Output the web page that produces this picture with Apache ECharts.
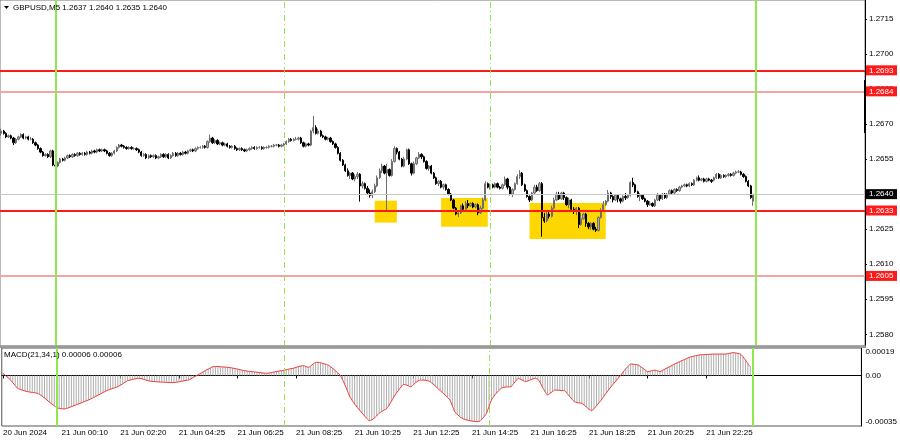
<!DOCTYPE html>
<html><head><meta charset="utf-8">
<script src="https://cdn.jsdelivr.net/npm/echarts@6/dist/echarts.min.js"></script>
<style>html,body{margin:0;padding:0;background:#fff}#c{width:900px;height:441px}</style>
</head><body><div id="c"></div>
<script>
const symbolName = 'GBPUSD,M5';
const macdName = 'MACD(21,34,1)';
const tickLabels = ['20 Jun 2024','21 Jun 00:10','21 Jun 02:20','21 Jun 04:25','21 Jun 06:25','21 Jun 08:25','21 Jun 10:25','21 Jun 12:25','21 Jun 14:25','21 Jun 16:25','21 Jun 18:25','21 Jun 20:25','21 Jun 22:25'];
const barsPerLabel = 24;
const slotCount = 352;
const priceTicks = [1.2580,1.2595,1.2610,1.2625,1.2640,1.2655,1.2670,1.2685,1.2700,1.2715];
const macdTicks = [-0.00035, 0, 0.00019];
const priceMin = 1.2575, priceMax = 1.27231;
const macdMin = -0.00035, macdMax = 0.00019;
const strongLevels = [1.2693, 1.2633];
const weakLevels = [1.2684, 1.2605];
const dayBreaks = [22, 307];
const sessionBreaks = [115, 199];
const zones = [[152,1.26372,161,1.26278],[179,1.26384,198,1.26260],[215,1.26362,246,1.26208]];
// [open, close, low, high]
const candles = [
[1.2666,1.2667,1.2665,1.2668],[1.2667,1.2666,1.26655,1.26675],[1.2666,1.26645,1.2664,1.26665],[1.26645,1.2665,1.2664,1.26655],[1.2665,1.2664,1.26635,1.26655],
[1.2664,1.2662,1.2661,1.26645],[1.2662,1.26635,1.26615,1.2664],[1.26635,1.26645,1.2663,1.2665],[1.26645,1.26655,1.2664,1.2666],[1.26655,1.2664,1.26635,1.2666],
[1.2664,1.26645,1.26635,1.2665],[1.26645,1.26635,1.2663,1.2665],[1.26635,1.26635,1.2663,1.26645],[1.26635,1.2662,1.26615,1.2664],[1.2662,1.2661,1.26605,1.26625],
[1.2661,1.26595,1.2659,1.26615],[1.26595,1.2658,1.26575,1.266],[1.2658,1.26565,1.2656,1.26585],[1.26565,1.2657,1.2656,1.26575],[1.2657,1.2656,1.26555,1.26575],
[1.2656,1.26585,1.26555,1.2659],[1.26585,1.26525,1.2652,1.2659],[1.26525,1.2652,1.26515,1.26535],[1.2652,1.26535,1.26515,1.2654],[1.26535,1.2655,1.2653,1.26555],
[1.2655,1.26545,1.2654,1.26555],[1.26545,1.26555,1.2654,1.2656],[1.26555,1.26565,1.2655,1.2657],[1.26565,1.2656,1.26555,1.2657],[1.2656,1.2657,1.26555,1.26575],
[1.2657,1.26565,1.2656,1.26575],[1.26565,1.26575,1.2656,1.2658],[1.26575,1.2657,1.26565,1.2658],[1.2657,1.26575,1.26565,1.2658],[1.26575,1.2657,1.26565,1.2658],
[1.2657,1.2658,1.26565,1.26585],[1.2658,1.26575,1.2657,1.26585],[1.26575,1.26585,1.2657,1.2659],[1.26585,1.2658,1.26575,1.2659],[1.2658,1.2659,1.26575,1.26595],
[1.2659,1.26585,1.2658,1.26595],[1.26585,1.2659,1.2658,1.26595],[1.2659,1.26585,1.2658,1.26595],[1.26585,1.26575,1.2657,1.2659],[1.26575,1.26565,1.2656,1.2658],
[1.26565,1.26575,1.2656,1.2658],[1.26575,1.26585,1.2657,1.2659],[1.26585,1.266,1.2658,1.26605],[1.266,1.2661,1.26595,1.26615],[1.2661,1.26605,1.266,1.26615],
[1.26605,1.266,1.26595,1.2661],[1.266,1.26595,1.2659,1.26605],[1.26595,1.266,1.2659,1.26605],[1.266,1.26595,1.2659,1.26605],[1.26595,1.26595,1.2659,1.266],
[1.26595,1.2659,1.26585,1.266],[1.2659,1.2658,1.26575,1.26595],[1.2658,1.26565,1.2656,1.26585],[1.26565,1.2657,1.2656,1.26575],[1.2657,1.26555,1.2655,1.26575],
[1.26555,1.26565,1.2655,1.2657],[1.26565,1.2656,1.26555,1.2657],[1.2656,1.26565,1.26555,1.2657],[1.26565,1.26555,1.2655,1.2657],[1.26555,1.2656,1.2655,1.26565],
[1.2656,1.2657,1.26555,1.26575],[1.2657,1.2656,1.26555,1.26575],[1.2656,1.2657,1.26555,1.26575],[1.2657,1.26555,1.2655,1.26575],[1.26555,1.26565,1.2655,1.2657],
[1.26565,1.26575,1.2656,1.2658],[1.26575,1.26565,1.2656,1.2658],[1.26565,1.26575,1.2656,1.2658],[1.26575,1.2657,1.26565,1.2658],[1.2657,1.2658,1.26565,1.26585],
[1.2658,1.26575,1.2657,1.26585],[1.26575,1.26585,1.2657,1.2659],[1.26585,1.2659,1.2658,1.26595],[1.2659,1.26585,1.2658,1.26595],[1.26585,1.26595,1.2658,1.266],
[1.26595,1.266,1.2659,1.26605],[1.266,1.266,1.26595,1.26605],[1.266,1.26605,1.26595,1.2661],[1.26605,1.266,1.26595,1.2661],[1.266,1.26625,1.26595,1.2663],
[1.26625,1.2664,1.2662,1.26655],[1.2664,1.2662,1.26615,1.26645],[1.2662,1.2663,1.26615,1.26635],[1.2663,1.26615,1.2661,1.26635],[1.26615,1.2662,1.2661,1.26625],
[1.2662,1.2661,1.26605,1.26625],[1.2661,1.26615,1.26605,1.2662],[1.26615,1.26605,1.266,1.2662],[1.26605,1.266,1.26595,1.2661],[1.266,1.26605,1.26595,1.2661],
[1.26605,1.26595,1.2659,1.2661],[1.26595,1.2659,1.26585,1.266],[1.2659,1.26595,1.26585,1.266],[1.26595,1.2659,1.26585,1.266],[1.2659,1.26585,1.2658,1.26595],
[1.26585,1.2659,1.2658,1.26595],[1.2659,1.26595,1.26585,1.266],[1.26595,1.266,1.2659,1.26605],[1.266,1.26595,1.2659,1.26605],[1.26595,1.266,1.2659,1.26605],
[1.266,1.266,1.26595,1.26605],[1.266,1.26595,1.2659,1.26605],[1.26595,1.266,1.2659,1.26605],[1.266,1.266,1.26595,1.26605],[1.266,1.26605,1.26595,1.2661],
[1.26605,1.26605,1.266,1.2661],[1.26605,1.2661,1.266,1.26615],[1.2661,1.2661,1.26605,1.26615],[1.2661,1.26605,1.266,1.26615],[1.26605,1.2661,1.266,1.26615],
[1.2661,1.26615,1.26605,1.2662],[1.26615,1.26625,1.2661,1.2663],[1.26625,1.26635,1.2662,1.2664],[1.26635,1.2663,1.26625,1.2664],[1.2663,1.26635,1.26625,1.2664],
[1.26635,1.26635,1.2663,1.26645],[1.26635,1.2664,1.2663,1.26645],[1.2664,1.2662,1.26615,1.26645],[1.2662,1.26605,1.266,1.26625],[1.26605,1.26615,1.266,1.2662],
[1.26615,1.2661,1.26605,1.2662],[1.2661,1.2667,1.26605,1.26675],[1.2667,1.26685,1.2666,1.26735],[1.26685,1.2666,1.26655,1.26695],[1.2666,1.2667,1.26655,1.2668],
[1.2667,1.2665,1.26645,1.26675],[1.2665,1.26645,1.2664,1.26655],[1.26645,1.26635,1.2663,1.2665],[1.26635,1.2664,1.2663,1.26645],[1.2664,1.26625,1.2662,1.26645],
[1.26625,1.26615,1.2661,1.2663],[1.26615,1.266,1.26595,1.2662],[1.266,1.26575,1.2657,1.26605],[1.26575,1.26545,1.2654,1.2658],[1.26545,1.26525,1.2652,1.2655],
[1.26525,1.265,1.26495,1.2653],[1.265,1.2648,1.26475,1.2651],[1.2648,1.2649,1.26465,1.26495],[1.2649,1.26465,1.2646,1.26495],[1.26465,1.26475,1.26455,1.26485],
[1.26475,1.26485,1.26465,1.26495],[1.26485,1.26435,1.26368,1.2649],[1.26435,1.26445,1.26425,1.26455],[1.26445,1.26425,1.2642,1.2645],[1.26425,1.26405,1.264,1.26435],
[1.26405,1.26395,1.26385,1.2642],[1.26395,1.2641,1.26383,1.2642],[1.2641,1.26435,1.26405,1.26445],[1.26435,1.2647,1.2643,1.2648],[1.2647,1.265,1.26465,1.2651],
[1.265,1.2652,1.2649,1.2653],[1.2652,1.2649,1.26485,1.26525],[1.2649,1.26505,1.26325,1.2653],[1.26505,1.2648,1.26475,1.2651],[1.2648,1.2654,1.26475,1.2655],
[1.2654,1.26595,1.26535,1.26605],[1.26595,1.2658,1.2657,1.266],[1.2658,1.2655,1.26545,1.26585],[1.2655,1.2652,1.26515,1.26555],[1.2652,1.2655,1.26515,1.2656],
[1.2655,1.2659,1.26545,1.26595],[1.2659,1.2653,1.26525,1.26595],[1.2653,1.2649,1.2648,1.26535],[1.2649,1.2653,1.26485,1.2654],[1.2653,1.26555,1.26525,1.2656],
[1.26555,1.2657,1.2655,1.2658],[1.2657,1.2656,1.2655,1.26575],[1.2656,1.2654,1.26535,1.26565],[1.2654,1.2651,1.26505,1.26545],[1.2651,1.2652,1.265,1.26525],
[1.2652,1.2649,1.26485,1.26525],[1.2649,1.2647,1.26465,1.26495],[1.2647,1.26445,1.2644,1.26475],[1.26445,1.26455,1.26435,1.2646],[1.26455,1.2643,1.26425,1.2646],
[1.2643,1.2644,1.2642,1.26445],[1.2644,1.2642,1.26415,1.26445],[1.2642,1.264,1.26395,1.26425],[1.264,1.26375,1.2637,1.26405],[1.26375,1.2634,1.26335,1.2638],
[1.2634,1.26315,1.2631,1.26345],[1.26315,1.2632,1.26302,1.2633],[1.2632,1.2635,1.26315,1.26355],[1.2635,1.26335,1.2633,1.2636],[1.26335,1.2636,1.2633,1.2637],
[1.2636,1.2635,1.2634,1.26375],[1.2635,1.2636,1.26345,1.26365],[1.2636,1.26345,1.2634,1.26365],[1.26345,1.26355,1.2634,1.2636],[1.26355,1.2632,1.2631,1.2636],
[1.2632,1.2634,1.26315,1.2635],[1.2634,1.26375,1.26335,1.26385],[1.26375,1.26445,1.2637,1.26455],[1.26445,1.2643,1.26425,1.2645],[1.2643,1.2644,1.2642,1.26445],
[1.2644,1.2643,1.26425,1.26445],[1.2643,1.26445,1.26425,1.2645],[1.26445,1.2643,1.26425,1.2645],[1.2643,1.26425,1.2642,1.26435],[1.26425,1.2644,1.2642,1.26445],
[1.2644,1.26465,1.26435,1.26475],[1.26465,1.2643,1.2642,1.2647],[1.2643,1.264,1.26395,1.26435],[1.264,1.2642,1.26388,1.26425],[1.2642,1.26445,1.26415,1.2645],
[1.26445,1.26475,1.2644,1.26485],[1.26475,1.2649,1.26465,1.26503],[1.2649,1.2644,1.26435,1.26495],[1.2644,1.26415,1.2641,1.26445],[1.26415,1.2639,1.26385,1.2642],
[1.2639,1.26375,1.26366,1.26395],[1.26375,1.26405,1.2637,1.2641],[1.26405,1.2643,1.264,1.2644],[1.2643,1.26415,1.2641,1.2644],[1.26415,1.26445,1.2641,1.26452],
[1.26445,1.263,1.26218,1.26452],[1.263,1.26285,1.26277,1.2632],[1.26285,1.26315,1.2628,1.2633],[1.26315,1.26305,1.26295,1.2633],[1.26305,1.2634,1.263,1.2635],
[1.2634,1.26375,1.26335,1.26385],[1.26375,1.264,1.2637,1.2641],[1.264,1.2638,1.26375,1.2641],[1.2638,1.26405,1.26375,1.2641],[1.26405,1.26385,1.26375,1.2641],
[1.26385,1.26355,1.2635,1.2639],[1.26355,1.26375,1.2634,1.26385],[1.26375,1.26335,1.2633,1.2638],[1.26335,1.2633,1.26315,1.26345],[1.2633,1.2634,1.2631,1.26345],
[1.2634,1.2627,1.26255,1.26345],[1.2627,1.26295,1.26265,1.2632],[1.26295,1.26315,1.2629,1.2632],[1.26315,1.26275,1.2626,1.2632],[1.26275,1.2626,1.2625,1.2628],
[1.2626,1.26275,1.26247,1.2628],[1.26275,1.2625,1.26245,1.2628],[1.2625,1.26245,1.26238,1.2626],[1.26245,1.263,1.2624,1.26305],[1.263,1.2633,1.26295,1.2634],
[1.2633,1.26355,1.26325,1.2637],[1.26355,1.2637,1.2635,1.26375],[1.2637,1.26405,1.26365,1.26418],[1.26405,1.2639,1.2638,1.2641],[1.2639,1.26375,1.26365,1.26395],
[1.26375,1.26395,1.2637,1.264],[1.26395,1.2638,1.26365,1.264],[1.2638,1.2637,1.2636,1.26385],[1.2637,1.2639,1.26365,1.26395],[1.2639,1.26385,1.26375,1.26405],
[1.26385,1.26395,1.2638,1.264],[1.26395,1.2645,1.2639,1.26455],[1.2645,1.2644,1.2643,1.2647],[1.2644,1.2641,1.26405,1.26445],[1.2641,1.2639,1.26385,1.26415],
[1.2639,1.26395,1.2637,1.26405],[1.26395,1.2638,1.26375,1.264],[1.2638,1.2637,1.26365,1.26385],[1.2637,1.26355,1.26345,1.26375],[1.26355,1.2636,1.2635,1.2637],
[1.2636,1.2635,1.26345,1.26365],[1.2635,1.26375,1.26345,1.2638],[1.26375,1.26395,1.2637,1.26405],[1.26395,1.2638,1.2637,1.264],[1.2638,1.264,1.26375,1.26405],
[1.264,1.26385,1.2638,1.26405],[1.26385,1.264,1.2638,1.26405],[1.264,1.26415,1.26395,1.2642],[1.26415,1.26405,1.264,1.2642],[1.26405,1.2642,1.264,1.26425],
[1.2642,1.26415,1.2641,1.26425],[1.26415,1.2643,1.2641,1.26435],[1.2643,1.26435,1.26425,1.2644],[1.26435,1.2644,1.2643,1.26445],[1.2644,1.26435,1.2643,1.26445],
[1.26435,1.26445,1.2643,1.2645],[1.26445,1.2644,1.26435,1.2645],[1.2644,1.2646,1.26435,1.26465],[1.2646,1.2647,1.26455,1.26475],[1.2647,1.2646,1.26455,1.2648],
[1.2646,1.26465,1.26455,1.2647],[1.26465,1.26455,1.2645,1.2647],[1.26455,1.26465,1.2645,1.2647],[1.26465,1.2646,1.26455,1.2647],[1.2646,1.26455,1.26448,1.26465],
[1.2646,1.2647,1.26455,1.26475],[1.2647,1.26485,1.26465,1.2649],[1.26485,1.2647,1.26465,1.2649],[1.2647,1.2648,1.26465,1.26485],[1.2648,1.26475,1.2647,1.26485],
[1.26475,1.2648,1.2647,1.26485],[1.2648,1.26485,1.26475,1.2649],[1.26485,1.2648,1.26475,1.2649],[1.2648,1.2649,1.26475,1.26495],[1.2649,1.26495,1.26485,1.265],
[1.26495,1.26495,1.2649,1.26503],[1.26495,1.26485,1.2648,1.265],[1.26485,1.26475,1.2647,1.2649],[1.26475,1.26455,1.2645,1.2648],[1.26455,1.26435,1.2643,1.2646],
[1.26435,1.26385,1.2638,1.2644],[1.2637,1.264,1.2635,1.264]
];
const macd = [
1.5e-5,0e-5,-1.5e-5,-3e-5,-5e-5,-7e-5,-8.9e-5,-9.6e-5,-10.2e-5,-10.8e-5,
-11.2e-5,-11.5e-5,-11.8e-5,-12e-5,-12.3e-5,-13.2e-5,-14.3e-5,-15.6e-5,-17e-5,-18.5e-5,
-19.8e-5,-21e-5,-22.3e-5,-22.8e-5,-23.1e-5,-23.2e-5,-22.9e-5,-22.3e-5,-21.6e-5,-21e-5,
-20.3e-5,-19.7e-5,-19e-5,-18.3e-5,-17.6e-5,-17e-5,-16.2e-5,-15.3e-5,-14.5e-5,-13.6e-5,
-12.7e-5,-11.8e-5,-10.9e-5,-10.1e-5,-9.6e-5,-9e-5,-8.4e-5,-7.8e-5,-6.8e-5,-5.8e-5,
-4.7e-5,-3.7e-5,-3.2e-5,-2.8e-5,-2.4e-5,-2.1e-5,-2e-5,-2.3e-5,-2.9e-5,-3.5e-5,
-3.9e-5,-4.1e-5,-4.3e-5,-4.4e-5,-4.5e-5,-4.6e-5,-4.7e-5,-4.8e-5,-4.9e-5,-5e-5,
-4.9e-5,-4.7e-5,-4.4e-5,-4.1e-5,-3.8e-5,-3.4e-5,-3.2e-5,-2.3e-5,-1.3e-5,-0.4e-5,
0.6e-5,1.5e-5,2.5e-5,3.5e-5,4.4e-5,5.3e-5,6.1e-5,6.2e-5,6.2e-5,6e-5,
5.9e-5,5.8e-5,5.6e-5,5.4e-5,5.1e-5,4.8e-5,4.4e-5,4e-5,3.6e-5,3.3e-5,
3e-5,2.8e-5,2.6e-5,2.4e-5,2.2e-5,2e-5,1.8e-5,1.6e-5,1.5e-5,1.7e-5,
2e-5,2.4e-5,2.7e-5,3e-5,3.3e-5,3.6e-5,4e-5,4.4e-5,4.7e-5,5e-5,
5.6e-5,6.1e-5,6.5e-5,6.8e-5,6.2e-5,5.6e-5,6.5e-5,8e-5,9e-5,9.1e-5,
8.8e-5,8.3e-5,7.8e-5,7.3e-5,6.2e-5,4.9e-5,3.5e-5,1.9e-5,0.3e-5,-2.8e-5,
-6.5e-5,-10.5e-5,-14.7e-5,-17.3e-5,-19.8e-5,-22e-5,-24e-5,-26e-5,-28e-5,-29.8e-5,
-31.3e-5,-30.8e-5,-29.6e-5,-28e-5,-26.2e-5,-25e-5,-24e-5,-23.2e-5,-20.8e-5,-18e-5,
-15e-5,-12.4e-5,-10.2e-5,-8e-5,-6.2e-5,-6.5e-5,-7.2e-5,-7.8e-5,-6.5e-5,-5e-5,
-3.8e-5,-3.2e-5,-3.2e-5,-3.4e-5,-3.7e-5,-4.5e-5,-5.8e-5,-7.3e-5,-8.9e-5,-10.5e-5,
-12e-5,-13.6e-5,-15.3e-5,-17e-5,-21e-5,-25.1e-5,-27e-5,-28.5e-5,-29.7e-5,-30.4e-5,
-30.9e-5,-31.3e-5,-31.6e-5,-31.8e-5,-32e-5,-31.8e-5,-30.5e-5,-28.5e-5,-26.2e-5,-21.5e-5,
-17e-5,-14.5e-5,-12.3e-5,-10.5e-5,-8.9e-5,-8.3e-5,-8e-5,-7.9e-5,-7.8e-5,-5.8e-5,
-3.8e-5,-2e-5,-2.8e-5,-3.6e-5,-4.3e-5,-3.7e-5,-3e-5,-2.4e-5,-2e-5,-2.6e-5,
-5e-5,-8.5e-5,-11.3e-5,-13.5e-5,-12.4e-5,-11.2e-5,-10.1e-5,-10.2e-5,-10.3e-5,-10.5e-5,
-10.6e-5,-12.5e-5,-14.5e-5,-16.5e-5,-18.2e-5,-18.8e-5,-19.1e-5,-19.3e-5,-20.6e-5,-22e-5,
-23.5e-5,-24.4e-5,-23e-5,-21e-5,-19e-5,-17e-5,-14.5e-5,-12.2e-5,-10e-5,-7.8e-5,
-5.8e-5,-3.8e-5,-1.7e-5,0.3e-5,2.5e-5,4.6e-5,6.4e-5,7.9e-5,7.8e-5,7.6e-5,
7.3e-5,6.2e-5,5e-5,3.8e-5,2.6e-5,3e-5,3.4e-5,3.7e-5,3.2e-5,2.6e-5,
3.5e-5,4.4e-5,5.3e-5,6.1e-5,7e-5,7.9e-5,8.7e-5,9.5e-5,10.3e-5,11e-5,
11.8e-5,12.5e-5,13e-5,13.4e-5,13.8e-5,14.2e-5,14.3e-5,14.4e-5,14.5e-5,14.6e-5,
14.7e-5,14.8e-5,14.8e-5,14.8e-5,14.8e-5,14.8e-5,14.8e-5,15.2e-5,15.5e-5,15.8e-5,
15.6e-5,15.2e-5,14.8e-5,13e-5,10.7e-5,8.2e-5,6e-5
];
const signal = macd; // SMA(1) of MACD

const FONT = 'Liberation Sans';
const categories = Array.from({length: slotCount}, (_, i) => String(i));
const last = candles[candles.length - 1];
const currentPrice = last[1];
const titleText = symbolName + ' ' + [last[0], last[3], last[2], last[1]].map(v => v.toFixed(4)).join(' ');
const macdText = macdName + ' ' + macd[macd.length-1].toFixed(5) + ' ' + signal[signal.length-1].toFixed(5);

function levelLabel(bg) {
  return {show: true, position: 'end', distance: 1, formatter: p => Number(p.value).toFixed(4),
    color: '#fff', backgroundColor: bg, fontSize: 8, fontFamily: FONT,
    padding: [1, 2, 0, 3], width: 26, align: 'left', lineHeight: 9};
}
const hLines = [];
weakLevels.forEach(v => hLines.push({yAxis: v, lineStyle: {color: '#f5a3a3', width: 2, type: 'solid'}, label: levelLabel('#ff1a1a')}));
strongLevels.forEach(v => hLines.push({yAxis: v, lineStyle: {color: '#ff1a1a', width: 2, type: 'solid'}, label: levelLabel('#ff1a1a')}));
hLines.push({yAxis: currentPrice, lineStyle: {color: '#c8c8c8', width: 1, type: 'solid'}, label: levelLabel('#000')});
function vLines() {
  const arr = [];
  dayBreaks.forEach(i => arr.push({xAxis: i, lineStyle: {color: '#8fe84e', width: 2, type: 'solid'}, label: {show: false}}));
  sessionBreaks.forEach(i => arr.push({xAxis: i, lineStyle: {color: '#8fe84e', width: 1, type: [6, 3, 1, 3]}, label: {show: false}}));
  return arr;
}

const chart = echarts.init(document.getElementById('c'), null, {renderer: 'canvas'});
chart.setOption({
  animation: false,
  backgroundColor: '#fff',
  textStyle: {fontFamily: FONT},
  grid: [
    {left: 0, top: 0, width: 865, height: 346, show: true, borderColor: '#777', borderWidth: 1, backgroundColor: 'transparent'},
    {left: 0, top: 348, width: 865, height: 78, show: true, borderColor: '#555', borderWidth: 1, backgroundColor: 'transparent'}
  ],
  xAxis: [
    {type: 'category', gridIndex: 0, data: categories, boundaryGap: true,
      axisLine: {show: false}, axisTick: {show: false}, axisLabel: {show: false}, splitLine: {show: false}},
    {type: 'category', gridIndex: 1, data: categories, boundaryGap: true,
      axisLine: {show: true, lineStyle: {color: '#000', width: 1}},
      axisTick: {show: true, alignWithLabel: true, length: 3, interval: i => i % barsPerLabel === 0 && i / barsPerLabel < tickLabels.length, lineStyle: {color: '#000'}},
      axisLabel: {show: true, interval: i => i % barsPerLabel === 0 && i / barsPerLabel < tickLabels.length,
        formatter: (v, i) => tickLabels[Math.round(Number(v) / barsPerLabel)] || '',
        align: 'left', fontSize: 8, color: '#000', margin: 3, fontFamily: FONT},
      splitLine: {show: false}}
  ],
  yAxis: [
    {type: 'value', gridIndex: 0, position: 'right', min: priceMin, max: priceMax, scale: true,
      axisLine: {show: true, lineStyle: {color: '#000', width: 1}},
      axisTick: {show: true, length: 2, customValues: priceTicks, lineStyle: {color: '#000'}},
      axisLabel: {show: true, customValues: priceTicks, formatter: v => v.toFixed(4), fontSize: 8, color: '#000', margin: 4, fontFamily: FONT},
      splitLine: {show: false}},
    {type: 'value', gridIndex: 1, position: 'right', min: macdMin, max: macdMax,
      axisLine: {show: true, lineStyle: {color: '#000', width: 1}},
      axisTick: {show: false},
      axisLabel: {show: true, customValues: macdTicks, formatter: v => Math.abs(v) < 1e-12 ? '0.00' : v.toFixed(5),
        fontSize: 8, color: '#000', margin: 4, fontFamily: FONT,
        verticalAlignMaxLabel: 'top', verticalAlignMinLabel: 'bottom'},
      splitLine: {show: false}}
  ],
  series: [
    {type: 'candlestick', name: symbolName, xAxisIndex: 0, yAxisIndex: 0, data: candles, barWidth: 1.8,
      itemStyle: {color: '#b0b0b0', color0: '#000', borderColor: '#6e6e6e', borderColor0: '#000', borderWidth: 1},
      markLine: {silent: true, precision: 5, symbol: ['none', 'none'], animation: false, data: hLines.concat(vLines())},
      markArea: {silent: true, itemStyle: {color: '#ffd700', opacity: 1},
        data: zones.map(z => [{xAxis: z[0], yAxis: z[1]}, {xAxis: z[2], yAxis: z[3]}])},
      z: 3},
    {type: 'bar', name: 'MACD', xAxisIndex: 1, yAxisIndex: 1, data: macd, barWidth: 1,
      itemStyle: {color: '#adadad'},
      markLine: {silent: true, symbol: ['none', 'none'], animation: false, data: vLines()}},
    {type: 'line', name: 'Signal', xAxisIndex: 1, yAxisIndex: 1, data: signal, showSymbol: false, symbol: 'none',
      smooth: 0.3, lineStyle: {color: '#f03a3a', width: 1}, z: 4}
  ],
  graphic: [
    {type: 'rect', shape: {x: 0, y: 345.5, width: 866, height: 2.5}, style: {fill: '#9a9a9a'}, z: 100},
    {type: 'rect', shape: {x: 864, y: 80, width: 2, height: 53}, style: {fill: '#000'}, z: 100},
    {type: 'polygon', shape: {points: [[4, 6], [9, 6], [6.5, 9]]}, style: {fill: '#000'}, z: 100},
    {type: 'text', x: 13, y: 7.5, style: {text: titleText, fontSize: 8, fontFamily: FONT, fill: '#000', verticalAlign: 'middle'}, z: 100},
    {type: 'text', x: 4, y: 355, style: {text: macdText, fontSize: 8, fontFamily: FONT, fill: '#000', verticalAlign: 'middle'}, z: 100}
  ]
});
</script></body></html>
